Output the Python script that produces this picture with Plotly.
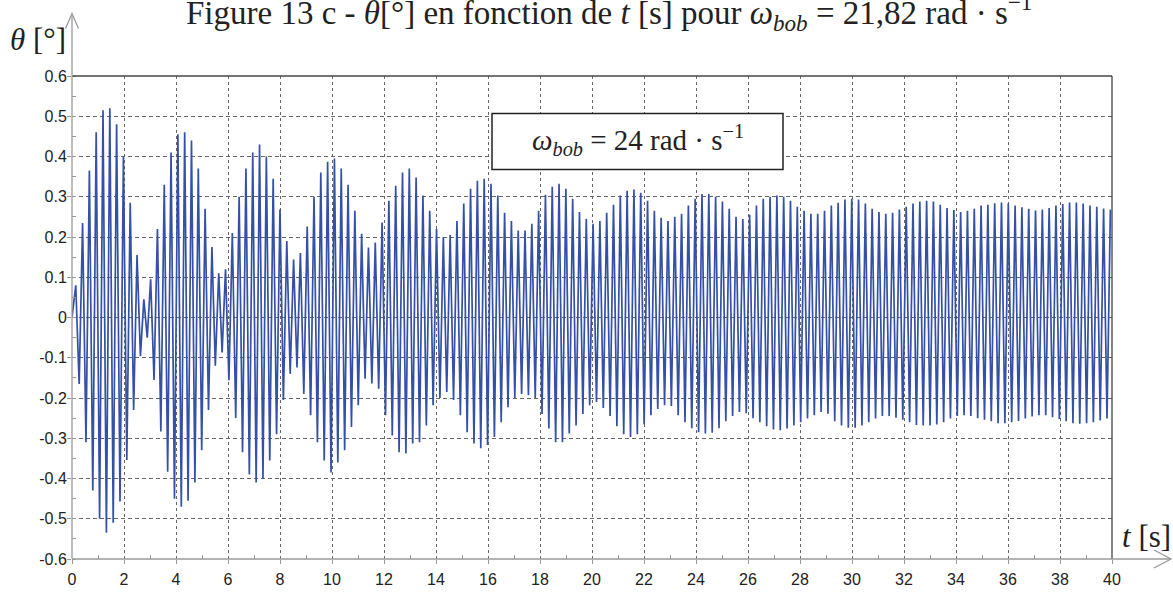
import numpy as np
import plotly.graph_objects as go

# ---- data: successive extrema of theta (deg), beat by beat ----
omega_bob = 24.0          # drive angular frequency (rad/s), extrema spaced by pi/omega
t_first_extremum = 0.145  # s

beat00 = [0.08, -0.165, 0.235, -0.31, 0.365, -0.43, 0.46, -0.50, 0.515, -0.535, 0.52, -0.51, 0.48, -0.457, 0.40, -0.354, 0.285, -0.23, 0.155, -0.096, 0.045, -0.05]
beat01 = [0.095, -0.155, 0.22, -0.283, 0.33, -0.383, 0.41, -0.45, 0.455, -0.47, 0.46, -0.455, 0.44, -0.41, 0.37, -0.33, 0.27, -0.23, 0.175, -0.12, 0.11, -0.087]
beat02 = [0.12, -0.156, 0.21, -0.25, 0.30, -0.335, 0.37, -0.39, 0.41, -0.41, 0.43, -0.40, 0.40, -0.355, 0.345, -0.29, 0.268, -0.205, 0.19, -0.14, 0.144, -0.124]
beat03 = [0.16, -0.19, 0.226, -0.243, 0.30, -0.31, 0.36, -0.355, 0.387, -0.385, 0.395, -0.36, 0.37, -0.33, 0.33, -0.272, 0.265, -0.218, 0.208, -0.152, 0.174, -0.164]
beat04 = [0.186, -0.177, 0.236, -0.243, 0.29, -0.293, 0.327, -0.335, 0.36, -0.338, 0.37, -0.313, 0.348, -0.31, 0.303, -0.268, 0.265, -0.218, 0.22, -0.2, 0.20, -0.185]
beat05 = [0.205, -0.205, 0.24, -0.243, 0.283, -0.285, 0.32, -0.313, 0.34, -0.325, 0.345, -0.317, 0.332, -0.297, 0.303, -0.26, 0.26, -0.223, 0.24, -0.2, 0.216, -0.19]
beat06 = [0.216, -0.193, 0.233, -0.2, 0.265, -0.24, 0.305, -0.276, 0.325, -0.31, 0.332, -0.31, 0.32, -0.288, 0.295, -0.268, 0.262, -0.24, 0.245, -0.218, 0.233, -0.21]
beat07 = [0.24, -0.225, 0.26, -0.245, 0.28, -0.27, 0.303, -0.29, 0.315, -0.297, 0.318, -0.29, 0.31, -0.265, 0.29, -0.243, 0.265, -0.227, 0.248, -0.218, 0.24, -0.22]
beat08 = [0.25, -0.243, 0.258, -0.26, 0.278, -0.275, 0.295, -0.285, 0.307, -0.288, 0.307, -0.286, 0.30, -0.275, 0.288, -0.258, 0.27, -0.245, 0.25, -0.235, 0.245, -0.238]
beat09 = [0.255, -0.25, 0.278, -0.26, 0.295, -0.27, 0.30, -0.278, 0.303, -0.28, 0.30, -0.276, 0.29, -0.268, 0.275, -0.26, 0.265, -0.251, 0.258, -0.243, 0.258, -0.235]
beat10 = [0.265, -0.239, 0.278, -0.258, 0.285, -0.268, 0.293, -0.274, 0.295, -0.274, 0.293, -0.268, 0.283, -0.26, 0.27, -0.251, 0.262, -0.245, 0.258, -0.245, 0.26, -0.249]
beat11 = [0.268, -0.254, 0.275, -0.26, 0.283, -0.267, 0.288, -0.268, 0.29, -0.268, 0.288, -0.266, 0.28, -0.26, 0.272, -0.251, 0.267, -0.245, 0.262, -0.243, 0.265, -0.245]
beat12 = [0.27, -0.25, 0.278, -0.254, 0.28, -0.258, 0.284, -0.263, 0.286, -0.263, 0.284, -0.26, 0.278, -0.257, 0.274, -0.251, 0.27, -0.246, 0.266, -0.243, 0.268, -0.243]
beat13 = [0.272, -0.248, 0.278, -0.252, 0.282, -0.258, 0.286, -0.263, 0.286, -0.264, 0.283, -0.263, 0.278, -0.26, 0.275, -0.256, 0.271, -0.251, 0.268]

x_ticks = list(range(0, 41, 2))
x_tick_labels = [str(v) for v in x_ticks]
y_ticks = [0.6, 0.5, 0.4, 0.3, 0.2, 0.1, 0.0, -0.1, -0.2, -0.3, -0.4, -0.5, -0.6]
y_tick_labels = ["0.6", "0.5", "0.4", "0.3", "0.2", "0.1", "0", "-0.1", "-0.2", "-0.3", "-0.4", "-0.5", "-0.6"]

# ---- assemble the series ----
beats = [beat00, beat01, beat02, beat03, beat04, beat05, beat06, beat07,
         beat08, beat09, beat10, beat11, beat12, beat13]
theta_ext = [v for b in beats for v in b]
t_ext = t_first_extremum + np.arange(len(theta_ext)) * np.pi / omega_bob
t = np.concatenate([[0.0], t_ext])
theta = np.concatenate([[0.0], theta_ext])

# ---- geometry helpers (pixel -> paper) ----
L, R, T, B = 72, 1112, 75.5, 559
W, H = 1173, 593
def px(x):
    return (x - L) / (R - L)
def py(y):
    return (B - y) / (B - T)

fig = go.Figure()
fig.add_trace(go.Scatter(x=t, y=theta, mode="lines",
                         line=dict(color="#3550a6", width=1.7),
                         hoverinfo="skip", showlegend=False))

serif = "Liberation Serif, Times New Roman, serif"
sans = "Liberation Sans, Arial, sans-serif"

fig.update_layout(
    width=W, height=H,
    margin=dict(l=L, r=W - R, t=T, b=H - B, pad=0),
    paper_bgcolor="white", plot_bgcolor="white",
    showlegend=False,
    xaxis=dict(range=[0, 40], tickvals=x_ticks, ticktext=x_tick_labels,
               showgrid=True, gridcolor="#666666", gridwidth=1, griddash="3px,3px",
               zeroline=False, showline=False, automargin=False,
               ticks="outside", ticklen=4, tickcolor="#999999",
               tickfont=dict(family=sans, size=16, color="#222222"),
               ticklabelstandoff=2,
               minor=dict(tickvals=list(range(1, 40, 2)), ticks="inside", ticklen=4,
                          tickcolor="#999999", showgrid=False)),
    yaxis=dict(range=[-0.6, 0.6], tickvals=y_ticks, ticktext=y_tick_labels,
               showgrid=True, gridcolor="#666666", gridwidth=1, griddash="4px,3px",
               zeroline=False, showline=False, automargin=False,
               ticks="outside", ticklen=4, tickcolor="#999999",
               tickfont=dict(family=sans, size=16, color="#222222"),
               ticklabelstandoff=-3,
               minor=dict(dtick=0.05, tick0=0.05, ticks="inside", ticklen=4,
                          tickcolor="#999999", showgrid=False)),
)

# frame: top & right solid dark, left & bottom grey axes with open arrows
fig.add_shape(type="line", xref="paper", yref="paper", x0=0, x1=1, y0=1, y1=1,
              line=dict(color="#444444", width=1.3))
fig.add_shape(type="line", xref="paper", yref="paper", x0=1, x1=1, y0=0, y1=1,
              line=dict(color="#444444", width=1.3))
fig.add_shape(type="line", xref="paper", yref="paper", x0=0, x1=0, y0=0, y1=py(13),
              line=dict(color="#9a9a9a", width=1.3))
fig.add_shape(type="line", xref="paper", yref="paper", x0=0, x1=px(1171), y0=0, y1=0,
              line=dict(color="#9a9a9a", width=1.3))
fig.add_shape(type="path", xref="paper", yref="paper",
              path=f"M {px(65.5)} {py(28)} L {px(72)} {py(13)} L {px(78.5)} {py(28)}",
              line=dict(color="#9a9a9a", width=1.3))
fig.add_shape(type="path", xref="paper", yref="paper",
              path=f"M {px(1154)} {py(550)} L {px(1171)} {py(559)} L {px(1154)} {py(568)}",
              line=dict(color="#9a9a9a", width=1.3))

# annotation box
fig.add_shape(type="rect", xref="paper", yref="paper",
              x0=px(492), x1=px(783), y0=py(169), y1=py(113),
              line=dict(color="#222222", width=1.5), fillcolor="white", layer="above")
fig.add_annotation(xref="paper", yref="paper", x=px(637.5), y=py(140),
                   text="<i>ω</i><sub><i>bob</i></sub> = 24 rad · s<sup>−1</sup>",
                   showarrow=False, xanchor="center", yanchor="middle",
                   font=dict(family=serif, size=29, color="#222222"))

# title (top slightly clipped in the original)
fig.add_annotation(xref="paper", yref="paper", x=px(609), y=py(12),
                   text="Figure 13 c - <i>θ</i>[°] en fonction de <i>t</i> [s] pour "
                        "<i>ω</i><sub><i>bob</i></sub> = 21,82 rad · s<sup>−1</sup>",
                   showarrow=False, xanchor="center", yanchor="middle",
                   font=dict(family=serif, size=33, color="#222222"))

# axis labels
fig.add_annotation(xref="paper", yref="paper", x=px(37.5), y=py(39),
                   text="<i>θ</i> [°]", showarrow=False,
                   xanchor="center", yanchor="middle",
                   font=dict(family=serif, size=31, color="#222222"))
fig.add_annotation(xref="paper", yref="paper", x=px(1146), y=py(536),
                   text="<i>t</i> [s]", showarrow=False,
                   xanchor="center", yanchor="middle",
                   font=dict(family=serif, size=31, color="#222222"))

fig.write_html("out.html", config={"displayModeBar": False},
               post_script="document.body.style.margin='0';")
